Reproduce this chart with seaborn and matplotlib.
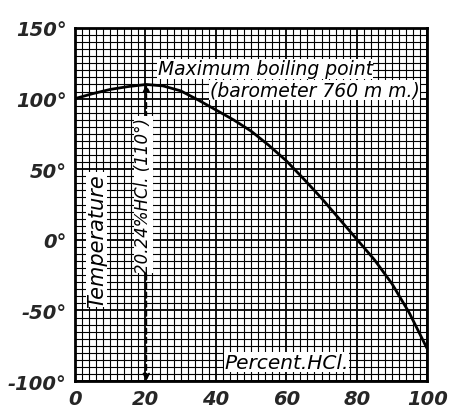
import numpy as np
import pandas as pd
import seaborn as sns
import matplotlib.pyplot as plt
from matplotlib.ticker import MultipleLocator

sns.set_style('white')
plt.rcParams['font.family'] = ['DejaVu Sans']

# boiling point curve
percent_hcl = [0, 5, 10, 15, 20.24, 25, 30, 35, 40, 45, 50, 55, 60, 65, 70, 75, 80, 85, 90, 95, 100]
temperature = [100, 103.5, 106.5, 108.5, 110, 109, 105.5, 99, 92, 85, 77, 67, 56, 43, 29.5, 15, 0.5, -14, -31, -52, -77]

x_ticks = [0, 20, 40, 60, 80, 100]
y_ticks = [-100, -50, 0, 50, 100, 150]
y_labels = ['-100°', '-50°', '0°', '50°', '100°', '150°']

max_pct = 20.24
max_temp = 110

df = pd.DataFrame({'pct': percent_hcl, 'temp': temperature})

fig = plt.figure(figsize=(4.52, 4.14), dpi=100)
ax = fig.add_axes([0.166, 0.077, 0.779, 0.853])

sns.lineplot(data=df, x='pct', y='temp', ax=ax, color='black', linewidth=2.0, zorder=5)

ax.set_xlim(0, 100)
ax.set_ylim(-100, 150)
ax.xaxis.set_major_locator(MultipleLocator(20))
ax.yaxis.set_major_locator(MultipleLocator(50))
ax.xaxis.set_minor_locator(MultipleLocator(2))
ax.yaxis.set_minor_locator(MultipleLocator(5))
ax.grid(which='major', color='black', linewidth=1.3)
ax.grid(which='minor', color='black', linewidth=0.8)
ax.set_axisbelow(True)
ax.tick_params(which='both', length=0, pad=6)

tick_font = dict(fontsize=14, fontweight='bold', fontstyle='italic')
ax.set_xticks(x_ticks)
ax.set_xticklabels([str(v) for v in x_ticks], **tick_font)
ax.set_yticks(y_ticks)
ax.set_yticklabels(y_labels, **tick_font)
ax.set_xlabel('')
ax.set_ylabel('')

for s in ax.spines.values():
    s.set_color('black')
    s.set_linewidth(2)

box = dict(facecolor='white', edgecolor='none', pad=0.5)
note_font = dict(fontstyle='italic', color='black', zorder=6)

# dashed arrow marking the maximum
ax.annotate('', xy=(max_pct, max_temp), xytext=(max_pct, -100),
            arrowprops=dict(arrowstyle='<|-|>', linestyle=(0, (3, 2)), color='black',
                            linewidth=1.3, mutation_scale=10, shrinkA=0, shrinkB=0),
            zorder=4)

ax.text(max_pct - 0.8, 32, '20.24%HCl. (110°)', rotation=90, ha='center', va='center',
        bbox=box, fontsize=12, **note_font)
ax.text(6.2, 0, 'Temperature', rotation=90, ha='center', va='center', bbox=box,
        fontsize=15, **note_font)
ax.text(60, -86.5, 'Percent.HCl.', ha='center', va='center', bbox=box,
        fontsize=14.5, **note_font)
ax.text(68, 106, '(barometer 760 m m.)', ha='center', va='center', bbox=box,
        fontsize=13.5, **note_font)
ax.text(54, 121, 'Maximum boiling point', ha='center', va='center', bbox=box,
        fontsize=13.5, **note_font)

plt.savefig('out.png', dpi=100)
